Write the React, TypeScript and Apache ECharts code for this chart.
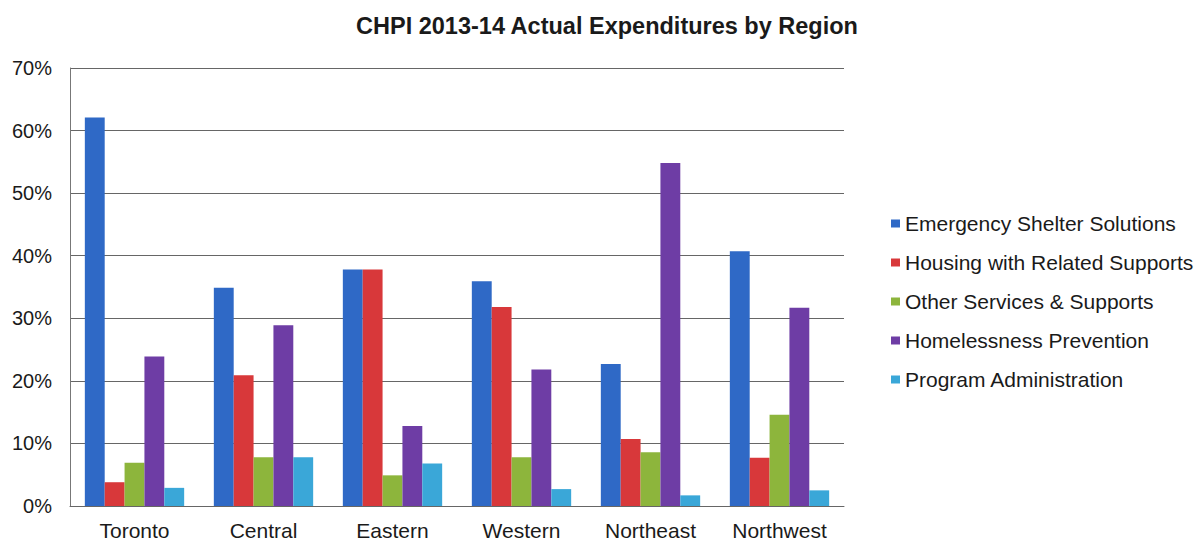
import React, { useEffect, useRef } from "react";
import * as echarts from "echarts";

const categories = ["Toronto", "Central", "Eastern", "Western", "Northeast", "Northwest"];
const seriesNames = [
  "Emergency Shelter Solutions",
  "Housing with Related Supports",
  "Other Services & Supports",
  "Homelessness Prevention",
  "Program Administration",
];
const emergencyShelter = [62.1, 34.9, 37.8, 35.9, 22.7, 40.7];
const housingSupports = [3.8, 20.9, 37.8, 31.8, 10.7, 7.7];
const otherServices = [6.9, 7.8, 4.9, 7.8, 8.6, 14.6];
const homelessnessPrevention = [23.9, 28.9, 12.8, 21.8, 54.8, 31.7];
const programAdmin = [2.9, 7.8, 6.8, 2.7, 1.7, 2.5];
const colors = ["#2F69C6", "#D8383A", "#8DB53C", "#6E3DA5", "#3AA7D8"];
const yTicks = [0, 10, 20, 30, 40, 50, 60, 70];

export default function App() {
  const ref = useRef<HTMLDivElement>(null);
  useEffect(() => {
    if (!ref.current) return;
    const chart = echarts.init(ref.current, undefined, { renderer: "svg" });
    const values = [emergencyShelter, housingSupports, otherServices, homelessnessPrevention, programAdmin];
    const font = "Arial, 'Liberation Sans', sans-serif";
    chart.setOption({
      animation: false,
      backgroundColor: "#ffffff",
      title: {
        text: "CHPI 2013-14 Actual Expenditures by Region",
        left: 602,
        textAlign: "center",
        top: 9,
        textStyle: { fontFamily: font, fontSize: 23.5, fontWeight: "bold", color: "#1a1a1a" },
      },
      legend: {
        orient: "vertical",
        left: 886,
        top: 208,
        itemWidth: 9,
        itemHeight: 8,
        itemGap: 18,
        icon: "rect",
        textStyle: { fontFamily: font, fontSize: 21, lineHeight: 21, color: "#1a1a1a" },
        data: seriesNames,
      },
      grid: { left: 70, right: 354, top: 68, bottom: 36, containLabel: false },
      xAxis: {
        type: "category",
        data: categories,
        axisLine: { show: true, lineStyle: { color: "#666", width: 1 } },
        axisTick: { show: false },
        axisLabel: { fontFamily: font, fontSize: 21, color: "#1a1a1a", margin: 14 },
      },
      yAxis: {
        type: "value",
        min: yTicks[0],
        max: yTicks[yTicks.length - 1],
        interval: 10,
        axisLine: { show: true, lineStyle: { color: "#777", width: 1 } },
        axisTick: { show: false },
        splitLine: { show: true, lineStyle: { color: "#666", width: 1 } },
        axisLabel: {
          fontFamily: font,
          fontSize: 20,
          color: "#1a1a1a",
          margin: 18,
          formatter: (v: number) => `${v}%`,
        },
      },
      series: seriesNames.map((name, i) => ({
        name,
        type: "bar",
        data: values[i],
        barGap: "0%",
        barCategoryGap: "23%",
        itemStyle: { color: colors[i] },
      })),
    });
    return () => chart.dispose();
  }, []);
  return (
    <div
      ref={ref}
      style={{ position: "fixed", left: 0, top: 0, width: 1198, height: 542 }}
    />
  );
}
